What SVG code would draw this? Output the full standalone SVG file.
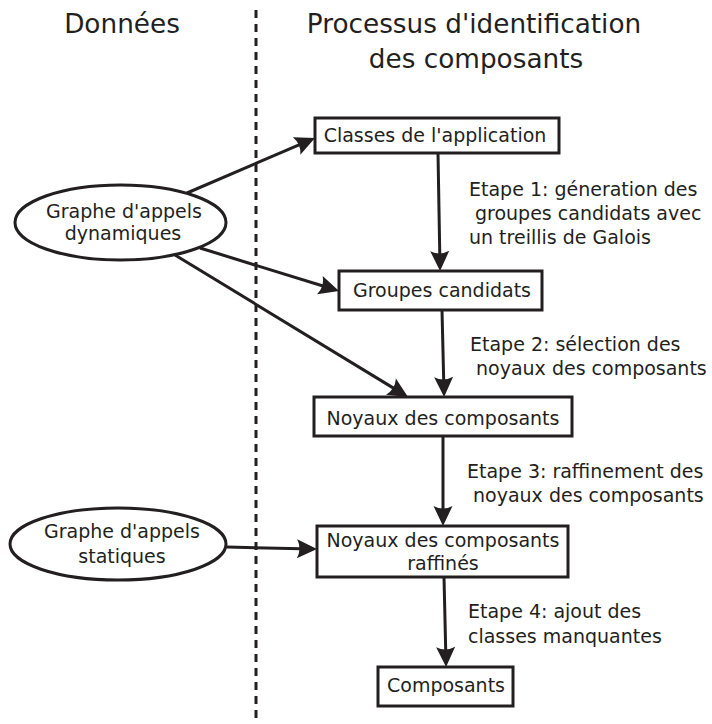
<svg xmlns="http://www.w3.org/2000/svg" width="712" height="724" viewBox="0 0 712 724">
<style>
text{font-family:"DejaVu Sans",sans-serif;fill:#231f20}
.h{font-size:26.3px;text-anchor:middle}
.t{font-size:19px}
.c{text-anchor:middle}
.box{fill:#fff;stroke:#231f20;stroke-width:3}
.ell{fill:#fff;stroke:#231f20;stroke-width:3}
.ln{fill:none;stroke:#231f20;stroke-width:3;marker-end:url(#ah)}
</style>
<defs>
<marker id="ah" markerUnits="userSpaceOnUse" orient="auto" refX="0" refY="0" markerWidth="30" markerHeight="30" viewBox="-20 -12 30 24" overflow="visible">
<path d="M4,0 L-16,-9.5 Q-11,0 -16,9.5 Z" fill="#231f20"/>
</marker>
</defs>
<rect width="712" height="724" fill="#fff"/>
<g id="headers">
<text class="h" x="122" y="33">Données</text>
<text class="h" x="474" y="33">Processus d'identification</text>
<text class="h" x="476" y="68">des composants</text>
</g>
<line id="separator" x1="256" y1="10" x2="256" y2="724" stroke="#231f20" stroke-width="3" stroke-dasharray="8,6"/>
<g id="connectors">
<path class="ln" d="M438,153 L440,267"/>
<path class="ln" d="M442,310 L444,393"/>
<path class="ln" d="M443,436 L443,522"/>
<path class="ln" d="M444,577 L446,663"/>
<path class="ln" d="M187,193 L311.3,139.6"/>
<path class="ln" d="M200,248 L335.2,289.8"/>
<path class="ln" d="M175,255 L404.6,394.9"/>
<path class="ln" d="M227,547 L313,549"/>
</g>
<g id="labels">
<text class="t" x="469" y="196">Etape 1: géneration des</text>
<text class="t" x="475" y="220">groupes candidats avec</text>
<text class="t" x="469" y="244">un treillis de Galois</text>
<text class="t" x="470" y="351">Etape 2: sélection des</text>
<text class="t" x="476" y="375">noyaux des composants</text>
<text class="t" x="467" y="478">Etape 3: raffinement des</text>
<text class="t" x="473" y="502">noyaux des composants</text>
<text class="t" x="468" y="618">Etape 4: ajout des</text>
<text class="t" x="468" y="643">classes manquantes</text>
</g>
<g id="node-classes">
<rect class="box" x="315" y="118" width="244" height="35"/>
<text class="t c" x="435" y="142">Classes de l'application</text>
</g>
<g id="node-groupes">
<rect class="box" x="339" y="271" width="203" height="39"/>
<text class="t c" x="442" y="297">Groupes candidats</text>
</g>
<g id="node-noyaux">
<rect class="box" x="314" y="397" width="258" height="39"/>
<text class="t c" x="443" y="425">Noyaux des composants</text>
</g>
<g id="node-raffines">
<rect class="box" x="317" y="526" width="251" height="51"/>
<text class="t c" x="443" y="547">Noyaux des composants</text>
<text class="t c" x="443" y="570">raffinés</text>
</g>
<g id="node-composants">
<rect class="box" x="378" y="667" width="135" height="39"/>
<text class="t c" x="446" y="692">Composants</text>
</g>
<g id="node-dynamique">
<ellipse class="ell" cx="120.5" cy="222.5" rx="105.5" ry="37.5"/>
<text class="t c" x="124" y="218">Graphe d'appels</text>
<text class="t c" x="123" y="240">dynamiques</text>
</g>
<g id="node-statique">
<ellipse class="ell" cx="118" cy="544" rx="108" ry="36"/>
<text class="t c" x="122" y="538">Graphe d'appels</text>
<text class="t c" x="122" y="563">statiques</text>
</g>
</svg>
